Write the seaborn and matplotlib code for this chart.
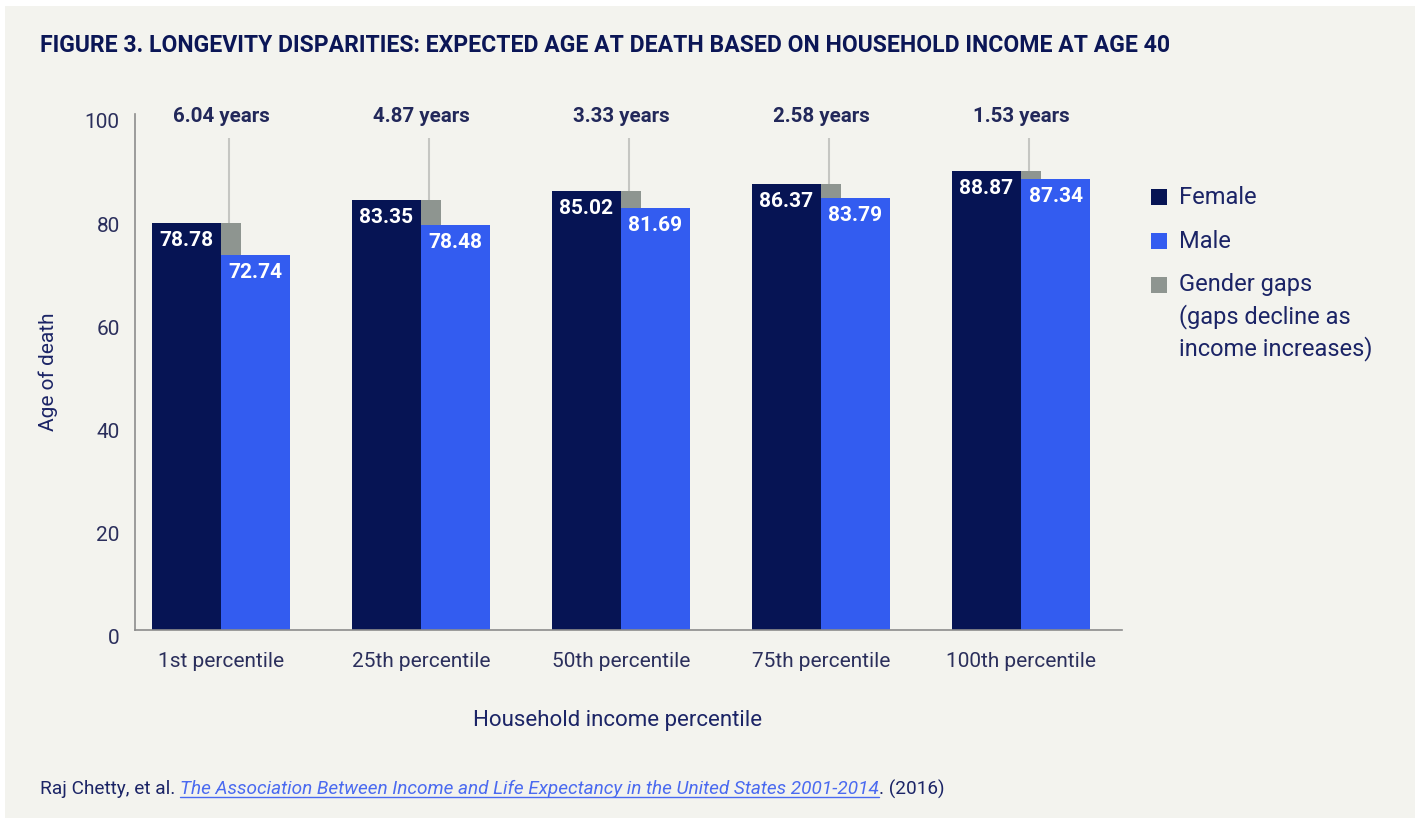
"""Longevity disparities bar chart."""

import matplotlib

matplotlib.use("Agg", force=True)
import matplotlib.pyplot as plt
import pandas as pd
import seaborn as sns
from matplotlib.patches import Rectangle
from matplotlib.transforms import ScaledTranslation

percentiles = ["1st percentile", "25th percentile", "50th percentile",
               "75th percentile", "100th percentile"]
female = [78.78, 83.35, 85.02, 86.37, 88.87]
male = [72.74, 78.48, 81.69, 83.79, 87.34]
gap_labels = ["6.04 years", "4.87 years", "3.33 years", "2.58 years", "1.53 years"]
yticks = [0, 20, 40, 60, 80, 100]

BG = "#f3f3ee"
NAVY = "#061454"
BLUE = "#335cf0"
GREY = "#8e9590"
TEXT = "#1b2466"
TICK = "#2b2f5c"

sns.set_theme(style="white")
plt.rcParams["font.family"] = ["Roboto", "DejaVu Sans"]

df = pd.DataFrame({
    "percentile": percentiles * 2,
    "sex": ["Female"] * 5 + ["Male"] * 5,
    "age": female + male,
})

fig = plt.figure(figsize=(14.21, 8.24), dpi=100, facecolor="white")
fig.patches.append(Rectangle((5 / 1421, 6 / 824), 1410 / 1421, 812 / 824,
                             transform=fig.transFigure, facecolor=BG,
                             edgecolor="none", zorder=-10))
ax = fig.add_axes([135 / 1421, 194 / 824, 987 / 1421, 516 / 824])
ax.set_facecolor("none")

sns.barplot(data=df, x="percentile", y="age", hue="sex", order=percentiles,
            palette={"Female": NAVY, "Male": BLUE}, width=0.69, gap=0,
            saturation=1, errorbar=None, legend=False, linewidth=0, ax=ax)

# gender gap blocks sitting on the male bar
xs = range(len(percentiles))
gaps = [f - m for f, m in zip(female, male)]
ax.bar([x + 0.05 for x in xs], gaps, width=0.1, bottom=male, color=GREY,
       linewidth=0, zorder=3)
ax.vlines([x + 0.04 for x in xs], female, 95.3, color="#c5c6c2", linewidth=1.5,
          zorder=2, clip_on=False)

for x, f, m, g in zip(xs, female, male, gap_labels):
    ax.annotate(f"{f:.2f}", (x - 0.1725, f), xytext=(0, -12.6),
                textcoords="offset points", ha="center", va="center",
                color="white", fontsize=15, fontweight="bold", zorder=5)
    ax.annotate(f"{m:.2f}", (x + 0.1725, m), xytext=(0, -12.6),
                textcoords="offset points", ha="center", va="center",
                color="white", fontsize=15, fontweight="bold", zorder=5)
    ax.text(x, 99.6, g, ha="center", va="center", fontsize=14.8,
            fontweight="bold", color="#22285a", clip_on=False)

ax.set_xlim(-0.43, 4.505)
ax.set_ylim(0, 100)
ax.set_yticks(yticks)
ax.tick_params(axis="both", length=0, labelcolor=TICK, labelsize=15)
ax.tick_params(axis="x", pad=16)
ax.tick_params(axis="y", pad=11)
for lab in ax.get_yticklabels():
    lab.set_transform(lab.get_transform() + ScaledTranslation(0, -0.07, fig.dpi_scale_trans))

sns.despine(ax=ax)
for side in ("left", "bottom"):
    ax.spines[side].set_color("#8c8c8c")
    ax.spines[side].set_linewidth(1.2)

ax.set_xlabel("Household income percentile", fontsize=16, color=TEXT)
ax.set_ylabel("Age of death", fontsize=15, color=TEXT)
ax.xaxis.set_label_coords(0.489, -0.155)
ax.yaxis.set_label_coords(-0.078, 0.5)

fig.text(40 / 1421, 1 - 46 / 824,
         "FIGURE 3. LONGEVITY DISPARITIES: EXPECTED AGE AT DEATH BASED ON HOUSEHOLD INCOME AT AGE 40",
         ha="left", va="center", fontsize=16.6, fontweight="bold", color="#0b1656")

# legend drawn by hand to keep the multi-line label aligned with its first row
legend_items = [("Female", NAVY, 197), ("Male", BLUE, 241), ("Gender gaps", GREY, 285)]
for name, color, yc in legend_items:
    fig.patches.append(Rectangle((1151 / 1421, 1 - (yc + 8) / 824), 16 / 1421, 16 / 824,
                                 transform=fig.transFigure, facecolor=color,
                                 edgecolor="none"))
    fig.text(1179 / 1421, 1 - yc / 824, name, ha="left", va="center",
             fontsize=17, color=TEXT)
for line, yc in [("(gaps decline as", 317), ("income increases)", 349)]:
    fig.text(1179 / 1421, 1 - yc / 824, line, ha="left", va="center",
             fontsize=17, color=TEXT)

# source line with an underlined italic title
renderer = fig.canvas.get_renderer()
y_src = 1 - 789 / 824
parts = [("Raj Chetty, et al. ", "normal", TEXT),
         ("The Association Between Income and Life Expectancy in the United States 2001-2014",
          "italic", "#4a6af0"),
         (". (2016)", "normal", TEXT)]
x_px = 40
for txt, style, color in parts:
    t = fig.text(x_px / 1421, y_src, txt, ha="left", va="center", fontsize=13.7,
                 fontstyle=style, color=color)
    bb = t.get_window_extent(renderer)
    if style == "italic":
        fig.add_artist(plt.Line2D([bb.x0 / 1421, bb.x1 / 1421],
                                  [(bb.y0 + 1) / 824, (bb.y0 + 1) / 824],
                                  transform=fig.transFigure, color=color,
                                  linewidth=1))
    x_px = bb.x1

fig.savefig("out.png", dpi=100, facecolor="white")
plt.close(fig)
